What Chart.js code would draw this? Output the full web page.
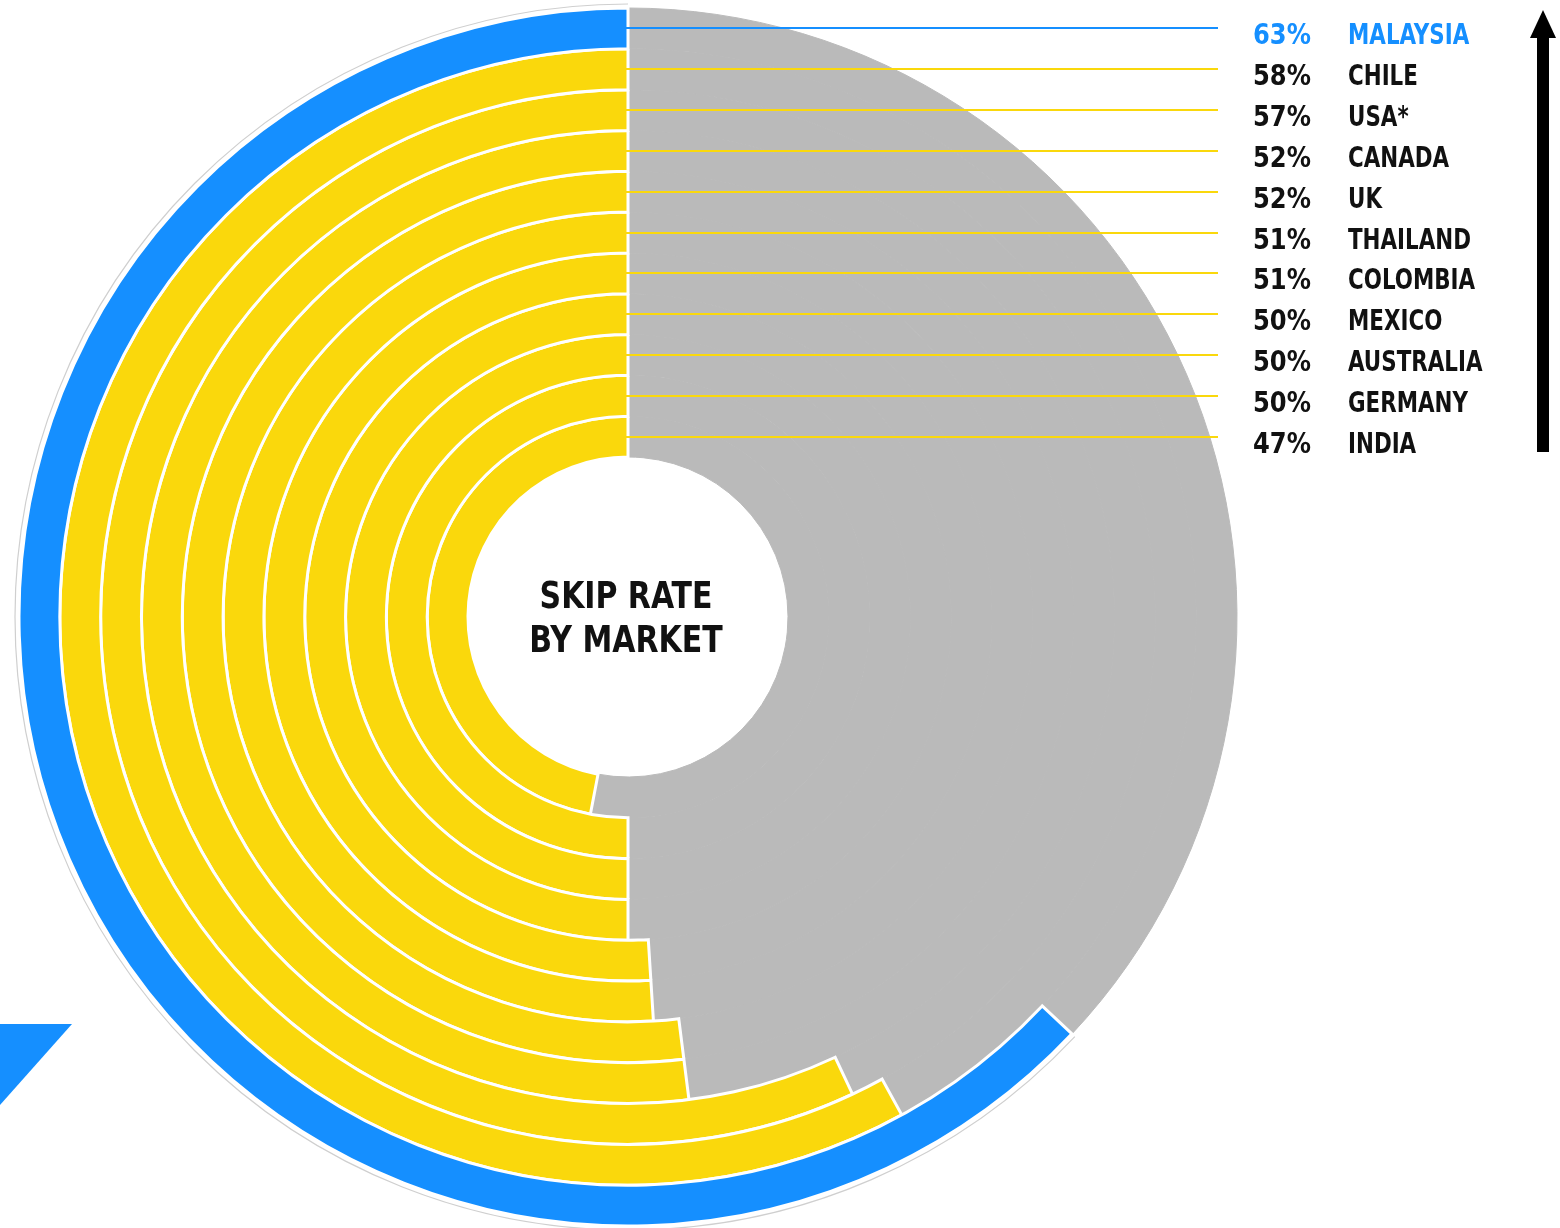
<!DOCTYPE html>
<html>
<head>
<meta charset="utf-8">
<title>Skip rate by market</title>
<script src="https://cdn.jsdelivr.net/npm/chart.js@4.4.1/dist/chart.umd.min.js"></script>
<style>
  html, body { margin: 0; padding: 0; background: #fff; }
  #wrap { position: relative; width: 1560px; height: 1228px; }
</style>
</head>
<body>
<div id="wrap"><canvas id="skipChart" width="1560" height="1228"></canvas></div>
<script>
// outermost ring first
const markets = ['MALAYSIA', 'CHILE', 'USA*', 'CANADA', 'UK', 'THAILAND', 'COLOMBIA', 'MEXICO', 'AUSTRALIA', 'GERMANY', 'INDIA'];
const skipRates = [63, 58, 57, 52, 52, 51, 51, 50, 50, 50, 47];
const chartTitle = ['SKIP RATE', 'BY MARKET'];

const BLUE = '#158fff';
const YELLOW = '#fad80c';
const GREY = '#bababa';
const INK = '#111111';
const FONT = '"Liberation Sans Narrow", "DejaVu Sans Condensed", sans-serif';

document.addEventListener('DOMContentLoaded', function() {
    renderSkipChart();
});

function ringColor(i) {
    return i === 0 ? BLUE : YELLOW;
}

// squeezes text horizontally to get a tighter condensed face
function narrowText(ctx, str, x, y, sx) {
    ctx.save();
    ctx.translate(x, y);
    ctx.scale(sx, 1);
    ctx.fillText(str, 0, 0);
    ctx.restore();
}

// leader lines, right-hand labels, centre title and the decorations
const ringLabels = {
    id: 'ringLabels',
    beforeDatasetsDraw(chart) {
        const ctx = chart.ctx;
        const c = chart.getDatasetMeta(0).controller;
        const cx = (chart.chartArea.left + chart.chartArea.right) / 2;
        const cy = (chart.chartArea.top + chart.chartArea.bottom) / 2;
        // faint rim behind the outer ring
        const end = -Math.PI / 2 - (skipRates[0] / 100) * Math.PI * 2;
        ctx.save();
        ctx.strokeStyle = '#cfcfcf';
        ctx.lineWidth = 1.2;
        ctx.beginPath();
        ctx.arc(cx, cy, c.outerRadius + 4, -Math.PI / 2, end, true);
        ctx.stroke();
        ctx.restore();
    },
    afterDatasetsDraw(chart) {
        const ctx = chart.ctx;
        const cx = (chart.chartArea.left + chart.chartArea.right) / 2;
        const cy = (chart.chartArea.top + chart.chartArea.bottom) / 2;
        ctx.save();

        markets.forEach((name, i) => {
            const ctrl = chart.getDatasetMeta(i).controller;
            const mid = (ctrl.innerRadius + ctrl.outerRadius) / 2;
            const y = Math.round(cy - mid);
            ctx.strokeStyle = ringColor(i);
            ctx.lineWidth = 2;
            ctx.beginPath();
            ctx.moveTo(cx - 2, y);
            ctx.lineTo(1218, y);
            ctx.stroke();

            ctx.fillStyle = i === 0 ? BLUE : INK;
            ctx.font = 'bold 28px ' + FONT;
            ctx.textAlign = 'left';
            ctx.textBaseline = 'alphabetic';
            narrowText(ctx, skipRates[i] + '%', 1253, y + 16, 0.96);
            narrowText(ctx, name, 1348, y + 16, 0.85);
        });

        // centre title
        ctx.fillStyle = INK;
        ctx.font = 'bold 37px ' + FONT;
        ctx.textAlign = 'center';
        narrowText(ctx, chartTitle[0], cx - 2, 608, 0.9);
        narrowText(ctx, chartTitle[1], cx - 2, 652, 0.9);

        // upward arrow on the right
        ctx.fillStyle = '#000';
        ctx.fillRect(1537, 36, 12, 416);
        ctx.beginPath();
        ctx.moveTo(1543, 10);
        ctx.lineTo(1556, 38);
        ctx.lineTo(1530, 38);
        ctx.closePath();
        ctx.fill();

        // blue corner wedge
        ctx.fillStyle = BLUE;
        ctx.beginPath();
        ctx.moveTo(0, 1024);
        ctx.lineTo(72, 1024);
        ctx.lineTo(0, 1105);
        ctx.closePath();
        ctx.fill();

        ctx.restore();
    }
};

function renderSkipChart() {
    const ctx = document.getElementById('skipChart').getContext('2d');
    const datasets = markets.map((name, i) => ({
        label: name,
        data: [100 - skipRates[i], skipRates[i]],
        backgroundColor: [GREY, ringColor(i)],
        borderColor: [GREY, '#ffffff'],
        borderWidth: [1, 3],
        hoverBorderWidth: [1, 3],
        borderJoinStyle: 'miter'
    }));

    new Chart(ctx, {
        type: 'doughnut',
        data: { labels: ['Watched', 'Skipped'], datasets },
        options: {
            responsive: false,
            animation: false,
            events: [],
            cutout: 160,
            layout: { padding: { left: 17.5, top: 6.5, right: 321.5, bottom: 0.5 } },
            plugins: {
                legend: { display: false },
                tooltip: { enabled: false }
            }
        },
        plugins: [ringLabels]
    });
}
</script>
</body>
</html>
